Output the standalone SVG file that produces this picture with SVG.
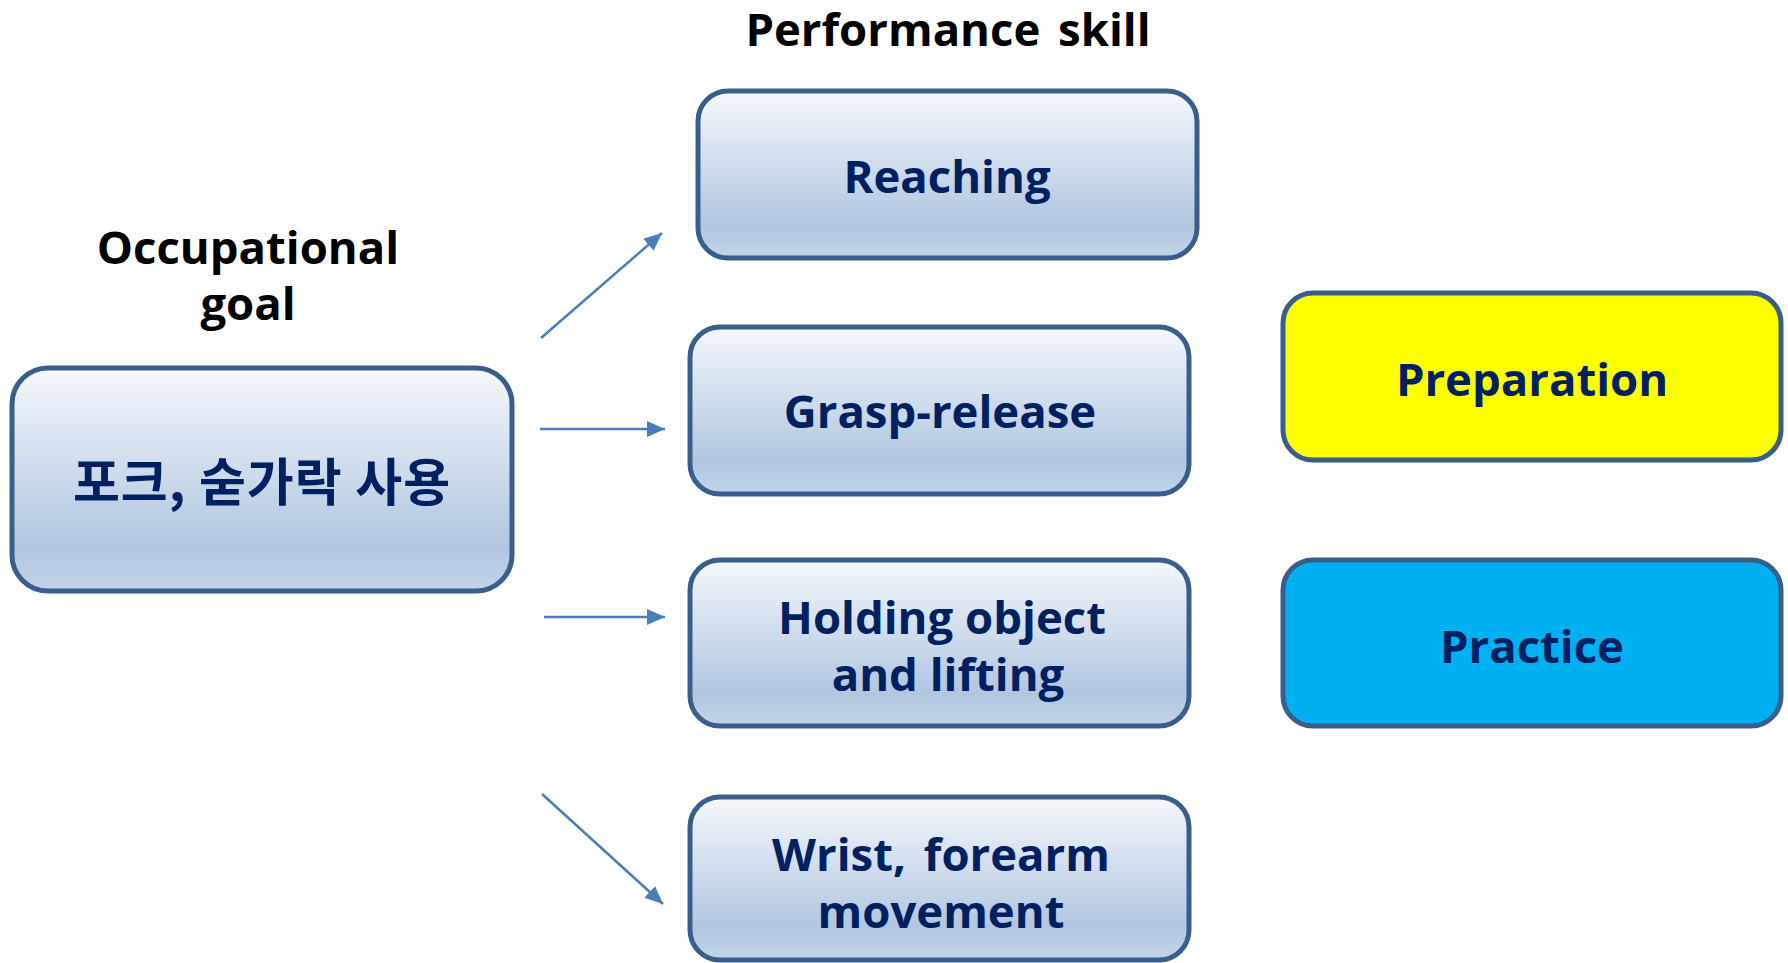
<svg xmlns="http://www.w3.org/2000/svg" width="1788" height="963" viewBox="0 0 1788 963">
<defs>
<linearGradient id="boxGrad" x1="0" y1="0" x2="0" y2="1">
<stop offset="0" stop-color="#F5F8FC"/>
<stop offset="0.8" stop-color="#B1C6E1"/>
<stop offset="1" stop-color="#C4D4E9"/>
</linearGradient>
<marker id="arrow" markerUnits="userSpaceOnUse" markerWidth="20" markerHeight="16" refX="18" refY="8" orient="auto">
<path d="M0,0 L18,8 L0,16 Z" fill="#4A7EBB"/>
</marker>
<style>
.box{fill:url(#boxGrad);stroke:#395E8C;stroke-width:5}
.yel{fill:#FFFF00;stroke:#395E8C;stroke-width:5}
.cyan{fill:#00B0F0;stroke:#395E8C;stroke-width:5}
.lbl{font-family:"Open Sans","Noto Sans CJK KR",sans-serif;font-weight:bold;font-size:45.5px;fill:#002060;text-anchor:middle}
.kr{font-family:"Noto Sans CJK KR",sans-serif;font-weight:bold;font-size:51px;fill:#002060;text-anchor:middle;letter-spacing:1px}
.head{font-family:"Open Sans",sans-serif;font-weight:bold;font-size:45.5px;fill:#000000;text-anchor:middle}
.conn{stroke:#4A7EBB;stroke-width:2.5;fill:none;marker-end:url(#arrow)}
</style>
</defs>
<rect width="1788" height="963" fill="#FFFFFF"/>
<g id="title-performance">
<text class="head" x="948" y="46" word-spacing="6">Performance skill</text>
</g>
<g id="title-occupational">
<text class="head" x="248" y="264">Occupational</text>
<text class="head" x="248" y="320">goal</text>
</g>
<g id="goal">
<rect class="box" x="12" y="368" width="500" height="223" rx="36"/>
<text class="kr" x="262" y="501">포크, 숟가락 사용</text>
</g>
<g id="reaching">
<rect class="box" x="698" y="91" width="499" height="167" rx="30"/>
<text class="lbl" x="947" y="193">Reaching</text>
</g>
<g id="grasp">
<rect class="box" x="690" y="327" width="499" height="167" rx="30"/>
<text class="lbl" x="940" y="428">Grasp-release</text>
</g>
<g id="holding">
<rect class="box" x="690" y="560" width="499" height="166" rx="30"/>
<text class="lbl" x="942" y="634">Holding object</text>
<text class="lbl" x="948" y="691">and lifting</text>
</g>
<g id="wrist">
<rect class="box" x="690" y="797" width="499" height="163" rx="30"/>
<text class="lbl" x="941" y="871" word-spacing="6">Wrist, forearm</text>
<text class="lbl" x="941" y="928">movement</text>
</g>
<g id="preparation">
<rect class="yel" x="1283" y="293" width="498" height="167" rx="30"/>
<text class="lbl" x="1532" y="396">Preparation</text>
</g>
<g id="practice">
<rect class="cyan" x="1283" y="560" width="498" height="166" rx="30"/>
<text class="lbl" x="1532" y="663">Practice</text>
</g>
<g id="connectors">
<line class="conn" x1="541" y1="338" x2="662" y2="233"/>
<line class="conn" x1="540" y1="429" x2="665" y2="429"/>
<line class="conn" x1="544" y1="617" x2="665" y2="617"/>
<line class="conn" x1="542" y1="794" x2="663" y2="904"/>
</g>
</svg>
